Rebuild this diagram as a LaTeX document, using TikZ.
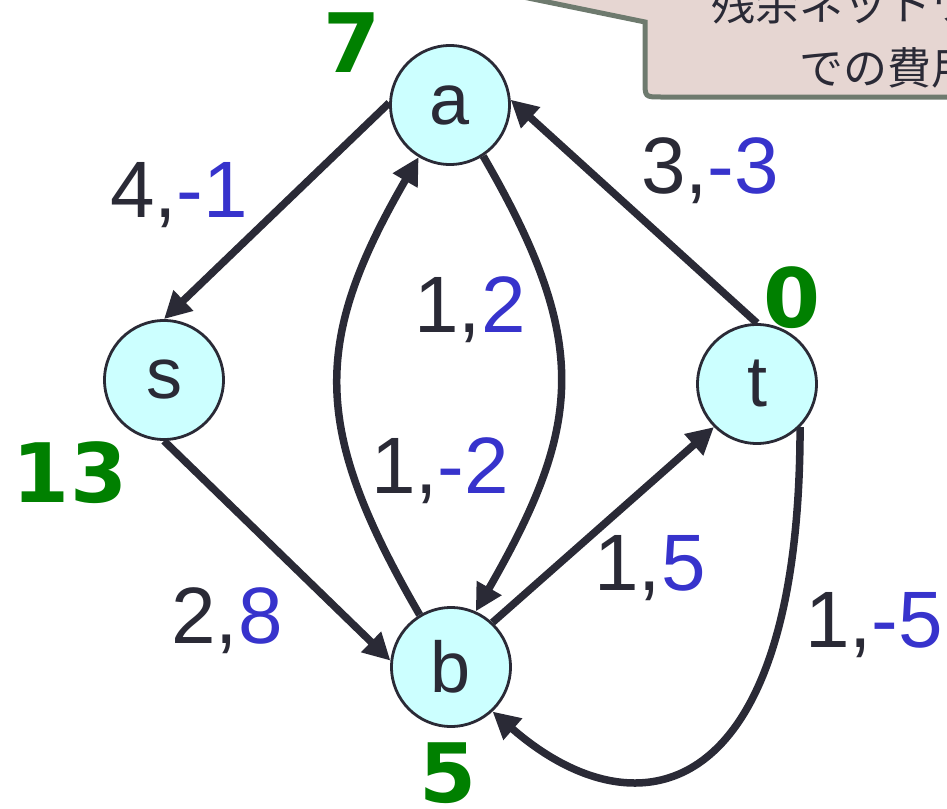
\documentclass[tikz,border=0pt]{standalone}
\usepackage{fontspec}
\setmainfont{Liberation Sans}
\newfontfamily\jpfont{Noto Sans CJK JP}
\newfontfamily\potfont{DejaVu Sans}
\usetikzlibrary{arrows.meta}
\definecolor{ink}{HTML}{2A2A36}
\definecolor{cblue}{HTML}{3733CC}
\definecolor{potgreen}{HTML}{008000}
\definecolor{nodefill}{HTML}{CCFFFF}
\definecolor{notefill}{HTML}{E6D6D2}
\definecolor{noteline}{HTML}{6E7A6E}

\begin{document}
\begin{tikzpicture}[
  x=1pt, y=-1pt,
  vertex/.style={circle, draw=ink, fill=nodefill, line width=2.8pt, minimum size=119pt,
    inner sep=0pt, text=ink, font=\fontsize{72}{72}\selectfont},
  flow/.style={draw=ink, line width=7.5pt, -{Triangle[length=27pt,width=27pt]}},
  cost/.style={anchor=base, inner sep=0pt, text=ink, font=\fontsize{80}{80}\selectfont},
  pot/.style={anchor=base, inner sep=0pt, text=potgreen, font=\potfont\bfseries\fontsize{82}{82}\selectfont},
  note/.style={anchor=base, inner sep=0pt, text=ink, font=\jpfont\fontsize{44}{44}\selectfont}
]
\useasboundingbox (0,0) rectangle (947,808);
\clip (0,0) rectangle (947,808);

% callout (cut by the frame)
\draw[fill=notefill, draw=noteline, line width=5pt]
  (1000,-60) -- (645,-60) -- (645,-8) -- (450,-18) -- (645,22)
  -- (645,81) .. controls (645,97) .. (661,97) -- (1000,97) -- cycle;
\node[note] (note1) at (887,21) {残余ネットワーク};
\node[note] (note2) at (887,84) {での費用};

% vertices
\node[vertex] (a) at (450,105) {a};
\node[vertex] (s) at (164,380) {s};
\node[vertex] (t) at (757,384) {t};
\node[vertex] (b) at (451,667) {b};

% residual arcs
\draw[flow] (a.178) -- (s.90);
\draw[flow] (t.90) -- (a.5);
\draw[flow] (s.-90) -- (b.174);
\draw[flow] (b.47) -- (t.225);
\draw[flow] (a.-57) .. controls (591,342) and (583,425) .. (b.66);
\draw[flow] (b.121) .. controls (312,429) and (311,343) .. (a.239);
\draw[flow] (t.-45) .. controls (800,800) and (640,840) .. (b.-47);

% capacity, cost
\node[cost] (c-as) at (179,217) {4,\textcolor{cblue}{-1}};
\node[cost] (c-ta) at (710,193) {3,\textcolor{cblue}{-3}};
\node[cost] (c-ab) at (470,332) {1,\textcolor{cblue}{2}};
\node[cost] (c-ba) at (440,493) {1,\textcolor{cblue}{-2}};
\node[cost] (c-bt) at (650,590) {1,\textcolor{cblue}{5}};
\node[cost] (c-tb) at (874,647) {1,\textcolor{cblue}{-5}};
\node[cost] (c-sb) at (227,643) {2,\textcolor{cblue}{8}};

% potentials
\node[pot] (p-a) at (352,72) {7};
\node[pot] (p-s) at (70,502) {13};
\node[pot] (p-t) at (792,327) {0};
\node[pot] (p-b) at (448,802) {5};
\end{tikzpicture}
\end{document}
